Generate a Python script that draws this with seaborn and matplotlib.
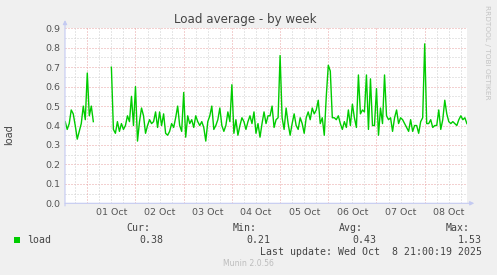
import numpy as np
import pandas as pd
import matplotlib
matplotlib.use("Agg")
import matplotlib.pyplot as plt
import seaborn as sns
from matplotlib.patches import Rectangle

# ---------------- data (hourly load average) ----------------
nan = np.nan
load_sep30 = [0.42, 0.38, 0.41, 0.48, 0.46, 0.40, 0.33, 0.37, 0.41, 0.50, 0.43]  # 13:00-23:00
load_oct01 = [0.67, 0.45, 0.50, 0.42, nan, nan, nan, nan, nan, nan, nan, nan,
              0.70, 0.38, 0.36, 0.42, 0.37, 0.41, 0.38, 0.40, 0.45, 0.42, 0.55, 0.40]
load_oct02 = [0.60, 0.32, 0.42, 0.49, 0.45, 0.36, 0.40, 0.43, 0.41, 0.42, 0.47, 0.39,
              0.47, 0.40, 0.46, 0.36, 0.35, 0.37, 0.41, 0.39, 0.44, 0.50, 0.40, 0.37]
load_oct03 = [0.57, 0.34, 0.45, 0.41, 0.43, 0.39, 0.45, 0.42, 0.40, 0.42, 0.39, 0.32,
              0.42, 0.45, 0.50, 0.38, 0.40, 0.43, 0.49, 0.40, 0.37, 0.40, 0.47, 0.42]
load_oct04 = [0.61, 0.36, 0.43, 0.35, 0.40, 0.44, 0.42, 0.38, 0.42, 0.45, 0.41, 0.47,
              0.36, 0.41, 0.34, 0.41, 0.47, 0.41, 0.45, 0.45, 0.50, 0.39, 0.43, 0.44]
load_oct05 = [0.76, 0.44, 0.38, 0.49, 0.41, 0.35, 0.41, 0.46, 0.40, 0.38, 0.44, 0.41,
              0.36, 0.44, 0.47, 0.43, 0.49, 0.46, 0.48, 0.53, 0.41, 0.44, 0.35, 0.55]
load_oct06 = [0.71, 0.68, 0.44, 0.44, 0.43, 0.45, 0.41, 0.38, 0.42, 0.39, 0.48, 0.40,
              0.51, 0.44, 0.39, 0.66, 0.46, 0.48, 0.47, 0.66, 0.38, 0.64, 0.40, 0.40]
load_oct07 = [0.59, 0.35, 0.49, 0.41, 0.66, 0.45, 0.43, 0.44, 0.37, 0.44, 0.48, 0.41,
              0.44, 0.43, 0.41, 0.39, 0.37, 0.43, 0.37, 0.40, 0.40, 0.36, 0.42, 0.44]
load_oct08 = [0.82, 0.41, 0.41, 0.43, 0.39, 0.40, 0.40, 0.48, 0.38, 0.43, 0.53, 0.46,
              0.42, 0.41, 0.42, 0.41, 0.40, 0.43, 0.45, 0.43, 0.44, 0.41]  # 00:00-21:00

start_time = "2025-09-30 13:00"
day_labels = ["01 Oct", "02 Oct", "03 Oct", "04 Oct", "05 Oct", "06 Oct", "07 Oct", "08 Oct"]
y_ticks = [0.0, 0.1, 0.2, 0.3, 0.4, 0.5, 0.6, 0.7, 0.8, 0.9]
stat_names = ["Cur:", "Min:", "Avg:", "Max:"]
stat_values = ["0.38", "0.21", "0.43", "1.53"]
series_name = "load"
last_update = "Last update: Wed Oct  8 21:00:19 2025"

values = (load_sep30 + load_oct01 + load_oct02 + load_oct03 + load_oct04 +
          load_oct05 + load_oct06 + load_oct07 + load_oct08)
times = pd.date_range(start_time, periods=len(values), freq="h")
df = pd.DataFrame({"time": times, "load": values})
df["segment"] = df["load"].isna().cumsum()
df = df.dropna()

# ---------------- figure ----------------
W, H = 497, 275
BG = "#F0F0F0"
fig = plt.figure(figsize=(W / 100, H / 100), dpi=100, facecolor=BG)
L, R, T, B = 65, 467, 28.3, 203.3
ax = fig.add_axes([L / W, 1 - B / H, (R - L) / W, (B - T) / H])
ax.set_facecolor("white")

x0 = pd.Timestamp("2025-09-30 12:54")
x1 = pd.Timestamp("2025-10-08 21:04")
ax.set_xlim(x0, x1)
ax.set_ylim(0, 0.9)

major_c = "#E8A2A2"
minor_c = "#CFCFCF"
dot = (0, (1, 2))
# horizontal grid
for v in np.arange(0.05, 0.9, 0.1):
    ax.axhline(v, color=minor_c, lw=0.72, ls=dot, zorder=1)
for v in y_ticks[1:]:
    ax.axhline(v, color=major_c, lw=0.72, ls=dot, zorder=1)
# vertical grid
g = pd.Timestamp("2025-09-30 18:00")
while g < x1:
    col = major_c if g.hour == 0 else minor_c
    ax.axvline(g, color=col, lw=0.72, ls=dot, zorder=1)
    g += pd.Timedelta(hours=6)

sns.lineplot(data=df, x="time", y="load", units="segment", estimator=None,
             color="#00CC00", lw=1.0, ax=ax, legend=False, zorder=3)

for s in ax.spines.values():
    s.set_visible(False)

tick_pos = [pd.Timestamp("2025-10-01 12:00") + pd.Timedelta(days=i) for i in range(len(day_labels))]
ax.set_xticks(tick_pos)
ax.set_xticklabels(day_labels)
ax.set_yticks(y_ticks)
ax.set_yticklabels([f"{v:.1f}" for v in y_ticks])
ax.tick_params(axis="both", length=0, labelsize=6.8, labelcolor="#555555")
ax.tick_params(axis="x", pad=3.5)
ax.tick_params(axis="y", pad=3.5)
ax.set_xlabel("")
ax.set_ylabel("")

axis_c = "#C4CAF2"
ax.annotate("", xy=(1.018, 0), xytext=(0, 0), xycoords="axes fraction",
            arrowprops=dict(arrowstyle="-|>", color=axis_c, lw=0.8, mutation_scale=6,
                            shrinkA=0, shrinkB=0), annotation_clip=False, zorder=5)
ax.annotate("", xy=(0, 1.047), xytext=(0, -0.015), xycoords="axes fraction",
            arrowprops=dict(arrowstyle="-|>", color=axis_c, lw=0.8, mutation_scale=6,
                            shrinkA=0, shrinkB=0), annotation_clip=False, zorder=5)

def fx(px):
    return px / W

def fy(py):
    return 1 - py / H

fig.text(fx(245), fy(19), "Load average - by week", ha="center", va="center",
         fontsize=8.6, color="#444444")
fig.text(fx(9), fy(135), "load", ha="center", va="center", rotation=90,
         fontsize=7, color="#444444")
fig.text(fx(487), fy(52), "RRDTOOL / TOBI OETIKER", ha="center", va="center",
         rotation=270, fontsize=5.3, color="#C4C4C4")

mono = "DejaVu Sans Mono"
tc = "#444444"
fig.patches.append(Rectangle((fx(14), fy(243)), 6 / W, 6 / H, transform=fig.transFigure,
                             facecolor="#00CC00", edgecolor="none"))
fig.text(fx(27), fy(240), series_name, ha="left", va="center", family=mono, fontsize=7.1, color=tc)
hdr_right = [150, 257, 363, 470]
val_right = [163, 270, 376, 482]
for name, val, hx, vx in zip(stat_names, stat_values, hdr_right, val_right):
    fig.text(fx(hx), fy(228), name, ha="right", va="center", family=mono, fontsize=7.1, color=tc)
    fig.text(fx(vx), fy(240), val, ha="right", va="center", family=mono, fontsize=7.1, color=tc)
fig.text(fx(482), fy(252), last_update, ha="right", va="center", family=mono, fontsize=7.1, color=tc)
fig.text(fx(248), fy(264), "Munin 2.0.56", ha="center", va="center", fontsize=5.6, color="#BDBDBD")

fig.savefig("out.png", dpi=100, facecolor=BG)
